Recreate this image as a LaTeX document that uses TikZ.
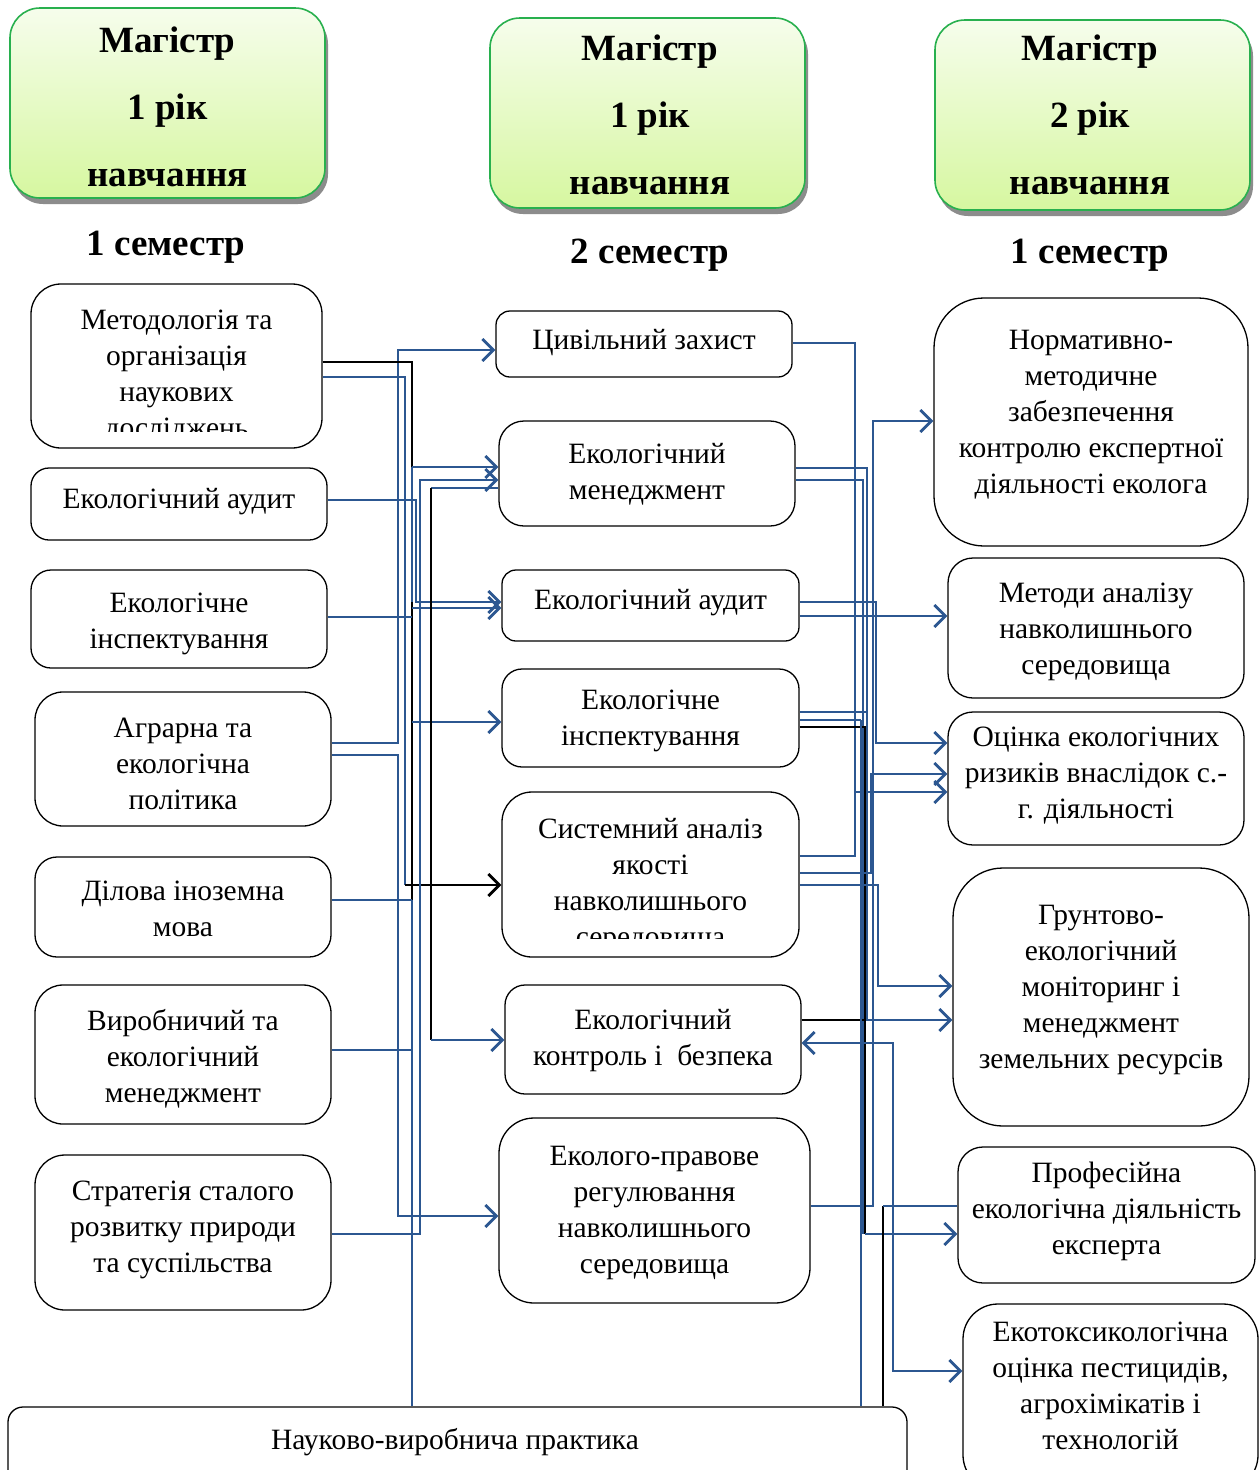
\documentclass[tikz,border=0pt]{standalone}
\usepackage{fontspec}
\setmainfont{Liberation Serif}
\usetikzlibrary{arrows.meta}

\definecolor{linkblue}{RGB}{44,87,145}
\definecolor{hdrgreen}{RGB}{40,176,78}
\definecolor{hdrtop}{RGB}{246,253,236}
\definecolor{hdrbot}{RGB}{214,247,160}

\newcommand\bodyfont{\fontsize{29.5}{36}\selectfont}
\newcommand\headfont{\fontsize{37}{67}\selectfont\bfseries}
\newcommand\semfont{\fontsize{37}{40}\selectfont\bfseries}

\tikzset{
  course/.style={draw=black, line width=1.3pt, rounded corners=#1, align=center,
    inner sep=0pt, font=\bodyfont},
  course/.default=20pt,
  header/.style={draw=hdrgreen, line width=1.6pt, rounded corners=30pt,
    top color=hdrtop, bottom color=hdrbot, minimum width=315pt, minimum height=190pt,
    inner sep=0pt},
  headtext/.style={align=center, font=\headfont, inner sep=0pt},
  hshadow/.style={fill=black!45, rounded corners=30pt},
  semester/.style={font=\semfont, inner sep=0pt},
  txt/.style={font=\bodyfont, align=center, inner sep=0pt},
  line/.style={anchor=base, font=\bodyfont, inner sep=0pt},
  link/.style={draw=linkblue, line width=2.2pt},
  blk/.style={draw=black, line width=1.8pt},
  arr/.style={-{Straight Barb[length=11pt,width=22pt,line width=2.8pt]}},
  twoarr/.style={{Straight Barb[length=11pt,width=22pt,line width=2.8pt]}-{Straight Barb[length=11pt,width=22pt,line width=2.8pt]}},
}

\begin{document}
\begin{tikzpicture}[x=1pt,y=-1pt]
\useasboundingbox (0,0) rectangle (1260,1470);
\fill[white] (0,0) rectangle (1260,1470);

% ---- year headers ----
\fill[hshadow] (13,14) rectangle (328,204);
\node[header] (H1) at (167.5,103) {};
\node[headtext] (H1t) at (167.5,107) {Магістр\\1 рік\\навчання};
\fill[hshadow] (493,24) rectangle (808,214);
\node[header] (H2) at (647.5,113) {};
\node[headtext] (H2t) at (650,115) {Магістр\\1 рік\\навчання};
\fill[hshadow] (938,26) rectangle (1253,216);
\node[header] (H3) at (1092.5,115) {};
\node[headtext] (H3t) at (1090,115) {Магістр\\2 рік\\навчання};

\node[semester] (S1) at (166,247) {1 семестр};
\node[semester] (S2) at (650,255) {2 семестр};
\node[semester] (S3) at (1090,255) {1 семестр};

% ---- first column ----
\node[course=30pt, minimum width=291pt, minimum height=164pt] (L1) at (176.5,366) {};
\begin{scope}
  \clip (31,290) rectangle (322,431);
  \node[line] (L1a) at (176.5,329) {Методологія та};
  \node[line] (L1b) at (176.5,365) {організація};
  \node[line] (L1c) at (176.5,401) {наукових};
  \node[line] (L1d) at (176.5,437) {досліджень};
\end{scope}
\node[course=18pt, minimum width=296pt, minimum height=72pt] (L2) at (179,504) {};
\node[txt] (L2t) at (179,502) {Екологічний аудит};
\node[course=20pt, minimum width=296pt, minimum height=98pt] (L3) at (179,619) {};
\node[txt] (L3t) at (179,624) {Екологічне\\інспектування};
\node[course=28pt, minimum width=296pt, minimum height=134pt] (L4) at (183,759) {};
\node[txt] (L4t) at (183,764) {Аграрна та\\екологічна\\політика};
\node[course=22pt, minimum width=296pt, minimum height=100pt] (L5) at (183,907) {};
\node[txt] (L5t) at (183,909) {Ділова іноземна\\мова};
\node[course=28pt, minimum width=296pt, minimum height=139pt] (L6) at (183,1054.5) {};
\node[txt] (L6t) at (183,1058.5) {Виробничий та\\екологічний\\менеджмент};
\node[course=30pt, minimum width=296pt, minimum height=155pt] (L7) at (183,1232.5) {};
\node[txt] (L7t) at (183,1229.5) {Стратегія сталого\\розвитку природи\\та суспільства};

% ---- second column ----
\node[course=14pt, minimum width=296pt, minimum height=66pt] (M1) at (644,344) {};
\node[txt] (M1t) at (644,343) {Цивільний захист};
\node[course=25pt, minimum width=296pt, minimum height=105pt] (M2) at (647,473.5) {};
\node[txt] (M2t) at (647,474.5) {Екологічний\\менеджмент};
\node[course=14pt, minimum width=297pt, minimum height=71pt] (M3) at (650.5,605.5) {};
\node[txt] (M3t) at (650.5,603) {Екологічний аудит};
\node[course=20pt, minimum width=297pt, minimum height=98pt] (M4) at (650.5,718) {};
\node[txt] (M4t) at (650.5,721) {Екологічне\\інспектування};
\node[course=30pt, minimum width=297pt, minimum height=165pt] (M5) at (650.5,874.5) {};
\begin{scope}
  \clip (502,800) rectangle (799,938);
  \node[line] (M5a) at (650.5,838) {Системний аналіз};
  \node[line] (M5b) at (650.5,874) {якості};
  \node[line] (M5c) at (650.5,910) {навколишнього};
  \node[line] (M5d) at (650.5,946) {середовища};
\end{scope}
\node[course=20pt, minimum width=296pt, minimum height=109pt] (M6) at (653,1039.5) {};
\node[txt] (M6t) at (653,1040.5) {Екологічний\\контроль і~~безпека};
\node[course=35pt, minimum width=311pt, minimum height=185pt] (M7) at (654.5,1210.5) {};
\node[txt] (M7t) at (654.5,1212.5) {Еколого-правове\\регулювання\\навколишнього\\середовища};

% ---- third column ----
\node[course=50pt, minimum width=314pt, minimum height=248pt] (R1) at (1091,422) {};
\node[txt] (R1t) at (1091,415) {Нормативно-\\методичне\\забезпечення\\контролю експертної\\діяльності еколога};
\node[course=25pt, minimum width=296pt, minimum height=140pt] (R2) at (1096,628) {};
\node[txt] (R2t) at (1096,632) {Методи аналізу\\навколишнього\\середовища};
\node[course=25pt, minimum width=296pt, minimum height=133pt] (R3) at (1096,778.5) {};
\node[txt] (R3t) at (1096,775.5) {Оцінка екологічних\\ризиків внаслідок с.-\\г. діяльності};
\node[course=50pt, minimum width=296pt, minimum height=258pt] (R4) at (1101,997) {};
\node[txt] (R4t) at (1101,990) {Грунтово-\\екологічний\\моніторинг і\\менеджмент\\земельних ресурсів};
\node[course=25pt, minimum width=297pt, minimum height=136pt] (R5) at (1106.5,1215) {};
\node[txt] (R5t) at (1106.5,1211) {Професійна\\екологічна діяльність\\експерта};
\node[course=35pt, minimum width=295pt, minimum height=186pt] (R6) at (1110.5,1397) {};
\node[txt] (R6t) at (1110.5,1386) {Екотоксикологічна\\оцінка пестицидів,\\агрохімікатів і\\технологій};

% ---- practice ----
\node[course=15pt, minimum width=899pt, minimum height=100pt] (B) at (457.5,1457) {};
\node[txt] (Bt) at (455,1442) {Науково-виробнича практика};

% ---- links: first to second column ----
\draw[link,arr] (L4.east |- 0,743) -| (398,350) -- (M1.west |- 0,350);
\draw[link,arr] (L4.east |- 0,755) -| (398,1216) -- (M7.west |- 0,1216);
\draw[link] (B.north -| 412,0) -- (412,467);
\draw[blk] (L1.east |- 0,362) -| (412,467);
\draw[blk] (412,602) -- (412,900);
\draw[link,arr] (412,467) -- (M2.west |- 0,467);
\draw[link,arr] (412,608) -- (M3.west |- 0,608);
\draw[link,arr] (412,722) -- (M4.west |- 0,722);
\draw[link,arr] (L2.east |- 0,500) -| (416,602) -- (M3.west |- 0,602);
\draw[link] (L1.east |- 0,377) -| (405,885);
\draw[blk,arr] (405,885) -- (M5.west |- 0,885);
\draw[link] (L3.east |- 0,617) -- (412,617);
\draw[link] (L5.east |- 0,900) -- (412,900);
\draw[link] (L6.east |- 0,1050) -- (412,1050);
\draw[link,arr] (L7.east |- 0,1234) -| (420,480) -- (M2.west |- 0,480);
\draw[link] (M2.west |- 0,488) -- (431,488);
\draw[blk] (431,488) -- (431,1040);
\draw[link,arr] (431,1040) -- (M6.west |- 0,1040);

% ---- links: second to third column ----
\draw[link,arr] (M1.east |- 0,343) -| (855,792) -- (R3.west |- 0,792);
\draw[link] (M5.east |- 0,856) -| (855,792);
\draw[link,arr] (M7.east |- 0,1206) -| (873,421) -- (R1.west |- 0,421);
\draw[link] (M2.east |- 0,468) -| (867,1020);
\draw[link] (M2.east |- 0,480) -| (863,1234);
\draw[link,arr] (M3.east |- 0,602) -| (876,743) -- (R3.west |- 0,743);
\draw[link,arr] (M3.east |- 0,616) -- (R2.west |- 0,616);
\draw[link] (M4.east |- 0,712) -- (866,712);
\draw[link] (M4.east |- 0,720) -- (861,720);
\draw[blk] (M4.east |- 0,727) -| (865,1234);
\draw[link,arr] (865,1234) -- (R5.west |- 0,1234);
\draw[link,arr] (M5.east |- 0,873) -| (871,774) -- (R3.west |- 0,774);
\draw[link,arr] (M5.east |- 0,885) -| (878,986) -- (R4.west |- 0,986);
\draw[blk] (M6.east |- 0,1020) -- (866,1020);
\draw[link,arr] (866,1020) -- (R4.west |- 0,1020);
\draw[link,twoarr] (M6.east |- 0,1043) -| (893,1371) -- (R6.west |- 0,1371);
\draw[link] (B.north -| 861,0) -- (861,720);
\draw[blk] (B.north -| 883,0) -- (883,1206);
\draw[link] (883,1206) -- (R5.west |- 0,1206);
\end{tikzpicture}
\end{document}
